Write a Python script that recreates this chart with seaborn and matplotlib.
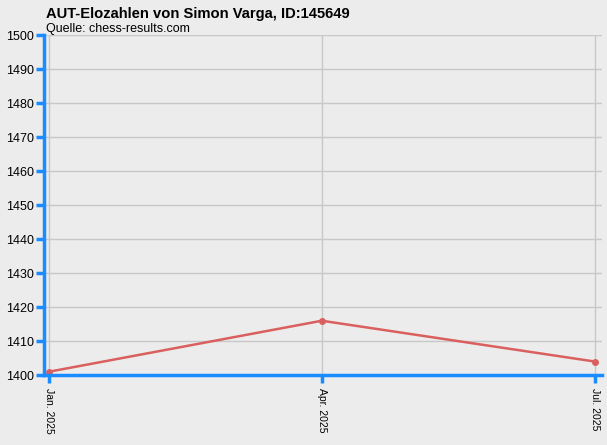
import pandas as pd
import matplotlib
matplotlib.use("Agg")
import matplotlib.pyplot as plt
import seaborn as sns

# Elo-Werte
monate = ["Jan. 2025", "Apr. 2025", "Jul. 2025"]
elo = [1401, 1416, 1404]

data = pd.DataFrame({"pos": range(len(monate)), "elo": elo})

sns.set_style("whitegrid")
plt.rcParams["font.family"] = ["Liberation Sans", "DejaVu Sans"]

bg = "#ececec"
blau = "#1a8cff"

fig = plt.figure(figsize=(6.07, 4.45), dpi=100, facecolor=bg)
ax = fig.add_axes([0.0725, 0.157, 0.919, 0.764])
ax.set_facecolor(bg)

sns.lineplot(
    x="pos",
    y="elo",
    data=data,
    color="#d9605e",
    linewidth=1.8,
    marker="o",
    markersize=5,
    markeredgewidth=0,
    ax=ax
)

ax.set_xlim(-0.018, 2.026)
ax.set_ylim(1400, 1500)
ax.set_xticks(range(len(monate)))
ax.set_xticklabels(monate, rotation=-90, fontsize=7.5)
ax.set_yticks(range(1400, 1501, 10))
ax.tick_params(axis="y", left=True, direction="out", labelsize=9, length=6,
               width=2.5, color=blau, labelcolor="black", pad=1)
ax.tick_params(axis="x", bottom=True, direction="out", length=6, width=2.5,
               color=blau, labelcolor="black", pad=3)
ax.set_xlabel("")
ax.set_ylabel("")

ax.grid(True, color="#c8c8c8", linewidth=1)
for s in ["top", "right"]:
    ax.spines[s].set_visible(False)
for s in ["left", "bottom"]:
    ax.spines[s].set_color(blau)
    ax.spines[s].set_linewidth(2.5)

fig.text(0.076, 0.985, "AUT-Elozahlen von Simon Varga, ID:145649",
         fontsize=10.6, fontweight="bold", va="top", ha="left", color="black")
fig.text(0.076, 0.948, "Quelle: chess-results.com", fontsize=9,
         va="top", ha="left", color="black")

plt.savefig("out.png", dpi=100, facecolor=bg)
